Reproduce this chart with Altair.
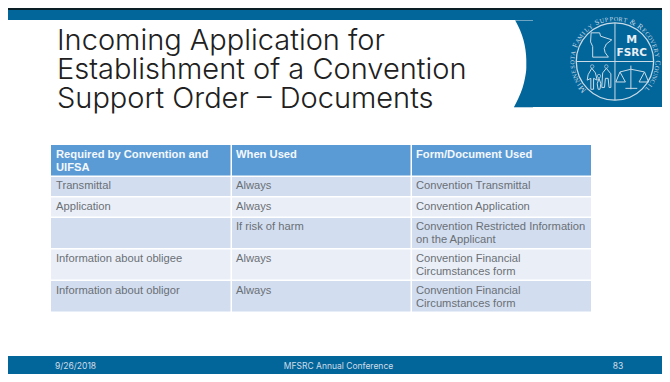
import math
import altair as alt
import pandas as pd

TITLE = ["Incoming Application for", "Establishment of a Convention", "Support Order \u2013 Documents"]
HEADERS = [["Required by Convention and", "UIFSA"], ["When Used"], ["Form/Document Used"]]
COL1 = ["Transmittal", "Application", "", "Information about obligee", "Information about obligor"]
COL2 = ["Always", "Always", "If risk of harm", "Always", "Always"]
COL3 = [["Convention Transmittal"], ["Convention Application"],
        ["Convention Restricted Information", "on the Applicant"],
        ["Convention Financial", "Circumstances form"],
        ["Convention Financial", "Circumstances form"]]
FOOTER = ["9/26/2018", "MFSRC Annual Conference", "83"]
SEAL = "Minnesota Family Support & Recovery Council"

W, H = 654, 366
xs = alt.Scale(domain=[8, 662], range=[0, W])
ys = alt.Scale(domain=[374, 8])
X = lambda f="x": alt.X(f"{f}:Q", scale=xs, axis=None)
Y = lambda f="y": alt.Y(f"{f}:Q", scale=ys, axis=None)

BLUE = "#03669b"
DARK = "#0a1e26"
HEAD = "#5b9bd5"
ROW_A = "#d2deef"
ROW_B = "#eaeff7"
INK = "#6a6f76"
LOGO = "#c9dbe6"

# the seal is drawn a little smaller so that all of it stays inside the page
K = 0.91
def sx(v):
    return 569 + (v - 569) * K
def sy(v):
    return 61.5 + (v - 61.5) * K

# ---- rectangles ----
rects = [
    (8, 662, 8, 10, DARK), (8, 662, 10, 20, BLUE),
    (8, 662, 356, 374, BLUE),
    (510, 662, 20, 107, BLUE),
    (515, 533, 20, 20.7, "#9fc0d4"), (514, 533, 107, 107.7, "#9fc0d4"),
]
cols = [(51, 230.5), (232, 410.5), (412, 591)]
rows = [(177, 196, ROW_A), (197.5, 216.5, ROW_B), (218, 248, ROW_A), (249.5, 279.5, ROW_B), (281, 311.5, ROW_A)]
for c0, c1 in cols:
    rects.append((c0, c1, 145, 175.5, HEAD))
    for r0, r1, col in rows:
        rects.append((c0, c1, r0, r1, col))
df_r = pd.DataFrame(rects, columns=["x", "x2", "y", "y2", "c"])
rect_layer = alt.Chart(df_r).mark_rect(strokeWidth=0).encode(
    X(), x2="x2:Q", y=Y(), y2="y2:Q", color=alt.Color("c:N", scale=None))

# ---- white curved edge of the title panel ----
curve_y = [20, 30, 40, 50, 60, 68, 78, 88, 98, 107]
curve_x = [515, 520, 523.5, 525.5, 526.3, 526.3, 525, 522.5, 518.5, 514]
df_c = pd.DataFrame({"x": curve_x, "x2": [505] * len(curve_x), "y": curve_y})
curve_layer = alt.Chart(df_c).mark_area(color="white", orient="horizontal", interpolate="monotone").encode(
    X(), x2="x2:Q", y=Y())

# ---- text ----
rows_t = []
def t(x, y, s, size, color, font, weight="normal", align="left"):
    rows_t.append(dict(x=x, y=y, s=s, size=size, color=color, font=font, weight=weight, align=align))

TF = "Inter"
for i, line in enumerate(TITLE):
    t(57, 50 + i * 29, line, 29, "#202020", TF, "300")
AR = "Liberation Sans"
COLX = [56, 236, 416]
for j, lines in enumerate(HEADERS):
    for i, line in enumerate(lines):
        t(COLX[j], 158 + i * 13, line, 11.2, "#f4f8fc", AR, "bold")
BASE = [189, 210, 230, 262, 294]
for i in range(5):
    t(COLX[0], BASE[i], COL1[i], 11.2, INK, AR)
    t(COLX[1], BASE[i], COL2[i], 11.2, INK, AR)
    for k, line in enumerate(COL3[i]):
        t(COLX[2], BASE[i] + k * 13, line, 11.2, INK, AR)
t(55, 369, FOOTER[0], 8.5, "#cfdde8", TF)
t(338.5, 369, FOOTER[1], 8.5, "#cfdde8", TF, align="center")
t(618, 369, FOOTER[2], 8.5, "#cfdde8", TF, align="center")
t(sx(638), sy(41), "M", 12 * K, "#e8eff4", "DejaVu Sans", "bold", "center")
t(sx(638), sy(55.5), "FSRC", 11.5 * K, "#e8eff4", "DejaVu Sans", "bold", "center")
df_t = pd.DataFrame(rows_t)

def text_layer(g):
    return [alt.Chart(sub).mark_text(baseline="alphabetic", align=al, font=f, fontWeight=(int(w) if w.isdigit() else w)).encode(
        X(), Y(), text="s:N", size=alt.Size("size:Q", scale=None, legend=None), color=alt.Color("color:N", scale=None))
        for (al, f, w), sub in g.groupby(["align", "font", "weight"])]

# ---- seal ----
CX, CY, R = 619.5, 61.5, 42.5
seal = alt.Chart(pd.DataFrame({"x": [sx(CX)], "y": [sy(CY)]})).mark_point(
    size=(2 * R * K) ** 2, filled=False, stroke=LOGO, strokeWidth=1.3, opacity=1).encode(X(), Y())

segs = []
def seg(name, pts):
    for n, (px, py) in enumerate(pts):
        segs.append(dict(id=name, n=n, x=sx(px), y=sy(py)))
seg("v", [(CX, 19), (CX, 104)])
seg("h", [(CX - 42.5, CY), (CX + 42.5, CY)])
seg("mn", [(593.3, 30), (602.7, 30), (603.7, 33.7), (616, 37.7), (610, 42.3), (607.7, 47.3),
           (608.7, 51.7), (612.3, 56.7), (595, 56.7), (595, 45), (592.7, 40), (593.3, 30)])
# family
seg("a1", [(594, 69), (590, 76), (589, 82), (593, 80), (593, 92), (596, 92), (596, 80), (600, 82), (598, 74), (594, 69)])
seg("a2", [(610, 69), (606, 74), (605, 90), (608, 90), (609, 80), (612, 80), (613, 90), (615, 90), (615, 75), (610, 69)])
seg("k", [(602, 80), (600, 86), (601, 92), (603, 92), (604, 86), (602, 80)])
# scales
seg("p", [(637, 66), (637, 92)])
seg("b", [(625, 73), (637, 70), (652, 73)])
seg("pb", [(631, 91), (644, 91)])
seg("l", [(625, 73), (620.5, 84), (631, 84), (625, 73)])
seg("r", [(652, 73), (646, 84), (656.5, 84), (652, 73)])
line_layer = alt.Chart(pd.DataFrame(segs)).mark_line(color=LOGO, strokeWidth=1.0).encode(
    X(), Y(), order="n:Q", detail="id:N")

heads = alt.Chart(pd.DataFrame({"x": [sx(v) for v in (594.5, 610, 602)], "y": [sy(v) for v in (67, 67, 77.5)]})).mark_point(
    size=12, filled=False, stroke=LOGO, strokeWidth=1).encode(X(), Y())

# seal lettering: each character turned along the ring
chars = []
start, end = -134.0, 134.0
widths = [1.0 if c.isupper() or c == "&" else (0.45 if c == " " else 0.8) for c in SEAL]
tot = sum(widths)
acc = 0.0
for c, w in zip(SEAL, widths):
    mid = start + (acc + w / 2) / tot * (end - start)
    acc += w
    a = math.radians(mid)
    chars.append(dict(x=sx(CX + 44.5 * math.sin(a)), y=sy(CY - 44.5 * math.cos(a)),
                      s=c.upper(), a=(mid + 360) % 360, size=(8.5 if c.isupper() or c == "&" else 6.8) * K))
ring = alt.Chart(pd.DataFrame(chars)).mark_text(
    baseline="alphabetic", align="center", font="Liberation Serif", color=LOGO).encode(
    X(), Y(), text="s:N", angle=alt.Angle("a:Q", scale=None), size=alt.Size("size:Q", scale=None, legend=None))

chart = alt.layer(
    rect_layer, curve_layer, seal, line_layer, heads, ring, *text_layer(df_t)
).properties(width=W, height=H, padding=0, autosize=alt.AutoSizeParams(type="none"), background="white"
).configure_view(stroke=None)

chart.save("out.html", embed_options={"renderer": "svg", "actions": False})
